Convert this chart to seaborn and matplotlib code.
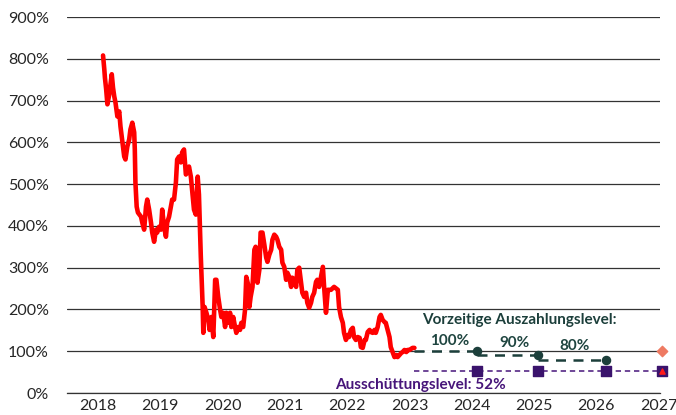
import numpy as np
import pandas as pd
import matplotlib
matplotlib.use("Agg")
import matplotlib.pyplot as plt
import seaborn as sns

# Kursverlauf (Dezimaljahr, Kurs in % vom Startniveau)
dates = [2018.58, 2018.60, 2018.61, 2018.63, 2018.65, 2018.68, 2018.70, 2018.72, 2018.74, 2018.76,
         2018.78, 2018.81, 2018.84, 2018.86, 2018.88, 2018.92, 2018.94, 2018.97, 2019.00, 2019.02,
         2019.05, 2019.08, 2019.09, 2019.10, 2019.12, 2019.14, 2019.19, 2019.21, 2019.24, 2019.27,
         2019.29, 2019.32, 2019.35, 2019.37, 2019.40, 2019.43, 2019.45, 2019.48, 2019.51, 2019.53,
         2019.56, 2019.59, 2019.61, 2019.64, 2019.67, 2019.69, 2019.72, 2019.75, 2019.77, 2019.80,
         2019.83, 2019.85, 2019.88, 2019.91, 2019.93, 2019.96, 2019.99, 2020.01, 2020.04, 2020.07,
         2020.10, 2020.12, 2020.15, 2020.18, 2020.19, 2020.21, 2020.24, 2020.27, 2020.29, 2020.32,
         2020.35, 2020.36, 2020.38, 2020.40, 2020.43, 2020.46, 2020.48, 2020.51, 2020.54, 2020.56,
         2020.59, 2020.62, 2020.64, 2020.67, 2020.70, 2020.72, 2020.75, 2020.78, 2020.80, 2020.83,
         2020.86, 2020.88, 2020.91, 2020.93, 2020.95, 2020.98, 2021.01, 2021.03, 2021.06, 2021.09,
         2021.11, 2021.14, 2021.17, 2021.20, 2021.22, 2021.25, 2021.28, 2021.30, 2021.33, 2021.36,
         2021.38, 2021.41, 2021.44, 2021.46, 2021.49, 2021.52, 2021.54, 2021.57, 2021.60, 2021.62,
         2021.65, 2021.68, 2021.70, 2021.73, 2021.76, 2021.78, 2021.81, 2021.84, 2021.86, 2021.89,
         2021.92, 2021.94, 2021.97, 2022.00, 2022.02, 2022.05, 2022.08, 2022.11, 2022.13, 2022.16,
         2022.19, 2022.24, 2022.29, 2022.35, 2022.37, 2022.40, 2022.43, 2022.45, 2022.48, 2022.51,
         2022.53, 2022.56, 2022.59, 2022.61, 2022.64, 2022.67, 2022.70, 2022.72, 2022.75, 2022.78,
         2022.80, 2022.83, 2022.86, 2022.88, 2022.91, 2022.94, 2022.96, 2022.99, 2023.02, 2023.04,
         2023.07, 2023.10, 2023.12, 2023.15, 2023.18, 2023.20, 2023.23, 2023.26, 2023.29, 2023.31,
         2023.34, 2023.37, 2023.39, 2023.42, 2023.45, 2023.47, 2023.50, 2023.53, 2023.55, 2023.58]
price = [808, 775, 755, 727, 691, 715, 739, 763, 731, 710,
         695, 662, 674, 638, 614, 566, 559, 590, 607, 631,
         647, 624, 583, 504, 446, 432, 422, 408, 391, 446,
         463, 439, 408, 384, 362, 391, 384, 398, 391, 439,
         398, 374, 408, 422, 446, 463, 463, 504, 559, 566,
         552, 576, 583, 523, 528, 542, 518, 487, 439, 427,
         518, 475, 326, 206, 144, 206, 192, 175, 151, 182,
         134, 175, 271, 271, 230, 199, 182, 192, 158, 192,
         168, 192, 158, 182, 158, 144, 158, 151, 168, 158,
         199, 278, 259, 206, 230, 254, 343, 350, 264, 295,
         384, 384, 355, 324, 314, 331, 343, 367, 379, 374,
         367, 350, 343, 312, 302, 271, 288, 278, 254, 276,
         271, 254, 295, 300, 264, 240, 230, 240, 216, 204,
         216, 230, 240, 266, 271, 254, 278, 302, 254, 192,
         247, 247, 254, 247, 206, 182, 168, 144, 127, 139,
         134, 151, 156, 134, 127, 134, 132, 110, 108, 127,
         127, 146, 151, 146, 144, 151, 144, 158, 182, 187,
         175, 170, 168, 151, 134, 110, 98, 86, 91, 86,
         91, 96, 98, 103, 98, 103, 103, 106, 108, 108]

# Beobachtungstermine und Level
obs_dates = [2024.59, 2025.57, 2026.65]
autocall_levels = [100, 90, 80]
autocall_labels = ["100%", "90%", "80%"]
final_date = 2027.56
coupon_level = 52

years = list(range(2018, 2028))
yticks = list(range(0, 1000, 100))

teal = "#1c3f3b"
purple = "#47157a"

sns.set_style("white")
plt.rcParams["font.family"] = ["Lato", "DejaVu Sans"]

fig = plt.figure(figsize=(6.76, 4.15), dpi=100)
ax = fig.add_axes([0.099, 0.053, 0.877, 0.906])

df = pd.DataFrame({"date": dates, "price": price})
sns.lineplot(data=df, x="date", y="price", color="#ff0000", lw=3.3, ax=ax, zorder=3)

# Ausschüttungslevel
ax.plot([dates[-1], final_date], [coupon_level, coupon_level], color=purple,
        lw=1.1, ls=(0, (3.5, 2.5)), zorder=2)
ax.scatter(obs_dates + [final_date], [coupon_level] * 4, marker="s", s=42,
           color="#3a136c", zorder=4, clip_on=False)
ax.scatter([final_date], [coupon_level], marker="^", s=14, color="#ff1a1a",
           zorder=5, clip_on=False)

# Vorzeitige Auszahlung: Stufen
starts = [dates[-1]] + obs_dates[:-1]
for i, (x0, x1, lv) in enumerate(zip(starts, obs_dates, autocall_levels)):
    ax.plot([x0, x1], [lv, lv], color=teal, lw=1.8, ls=(0, (4, 3)),
            gapcolor="white" if i == 0 else None, zorder=2.5)
ax.scatter(obs_dates, autocall_levels, s=34, color=teal, zorder=4)
ax.scatter([final_date], [100], marker="D", s=28, color="#ee7a62",
           zorder=4, clip_on=False)

ax.text(2025.27, 175, "Vorzeitige Auszahlungslevel:", ha="center", va="center",
        fontsize=11, fontweight="bold", color=teal)
for x, lab, y in zip([2024.14, 2025.19, 2026.15], autocall_labels, [125, 120, 113]):
    ax.text(x, y, lab, ha="center", va="center", fontsize=11,
            fontweight="bold", color="#1f4540")
ax.text(2023.68, 19, "Ausschüttungslevel: 52%", ha="center", va="center",
        fontsize=11, fontweight="bold", color=purple)

ax.set_xlim(2018, 2027.52)
ax.set_ylim(0, 900)
ax.set_yticks(yticks)
ax.set_yticklabels([f"{v}%" for v in yticks])
ax.grid(axis="y", color="#333333", lw=0.9)
ax.set_axisbelow(True)

ax.set_xticks(years)
ax.set_xticklabels([])
ax.set_xticks([y + 0.5 for y in years], minor=True)
ax.set_xticklabels([str(y) for y in years], minor=True)
ax.tick_params(axis="x", which="major", length=4, width=0.9, color="#333333", direction="out")
ax.tick_params(axis="x", which="minor", length=0, pad=4, labelsize=11.5, labelcolor="#262626")
ax.tick_params(axis="y", length=0, pad=13, labelsize=11.5, labelcolor="#262626")

for s in ["top", "right", "left"]:
    ax.spines[s].set_visible(False)
ax.spines["bottom"].set_color("#333333")
ax.spines["bottom"].set_linewidth(0.9)
ax.set_xlabel("")
ax.set_ylabel("")

fig.savefig("out.png", dpi=100)
